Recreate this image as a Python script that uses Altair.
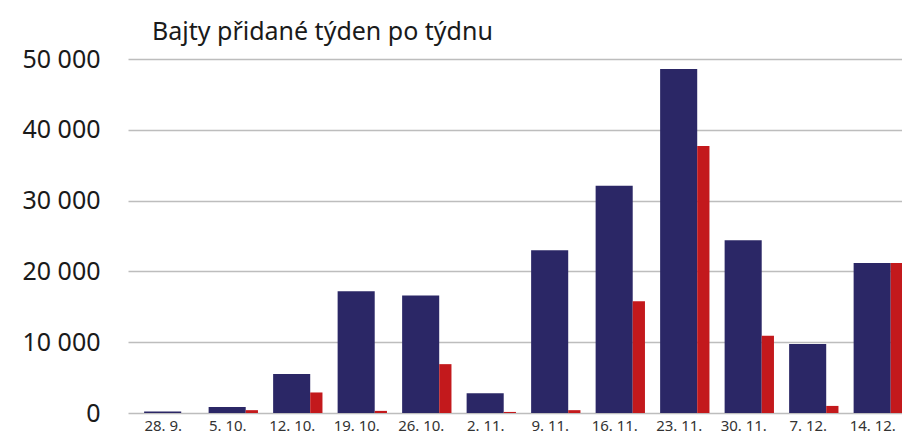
import altair as alt
import pandas as pd

weeks = ["28. 9.", "5. 10.", "12. 10.", "19. 10.", "26. 10.", "2. 11.", "9. 11.",
         "16. 11.", "23. 11.", "30. 11.", "7. 12.", "14. 12."]
series_a = [200, 850, 5500, 17200, 16600, 2800, 23000, 32100, 48600, 24400, 9750, 21200]
series_b = [0, 400, 2900, 300, 6900, 150, 400, 15800, 37700, 10900, 1000, 21200]

df = pd.DataFrame({"week": weeks, "a": series_a, "b": series_b})

FONT = "Noto Sans"
W, H = 774, 354
step = W / len(weeks)

x = alt.X("week:N", sort=weeks, title=None,
          scale=alt.Scale(paddingInner=0, paddingOuter=0),
          axis=alt.Axis(labelAngle=0, labelFontSize=15, labelColor="#333333",
                        labelFont=FONT, ticks=False, domain=False, labelPadding=5,
                        labelOffset=3))
yscale = alt.Scale(domain=[0, 50000])

bars_a = alt.Chart(df).mark_bar(
    color="#2b2766", width=step * 0.575, xOffset=step * (0.25 + 0.2875 - 0.5)
).encode(
    x=x,
    y=alt.Y("a:Q", scale=yscale, title=None,
            axis=alt.Axis(values=[0, 10000, 20000, 30000, 40000, 50000],
                          labelExpr="replace(format(datum.value, ',d'), ',', ' ')",
                          labelFontSize=25, labelFont=FONT, labelColor="#1a1a1a",
                          labelPadding=28, ticks=False, domain=False,
                          gridColor="#bdbdbd", gridWidth=1.6)),
)

bars_b = alt.Chart(df).mark_bar(
    color="#c3191c", width=step * 0.19, xOffset=step * (0.825 + 0.095 - 0.5)
).encode(
    x=x,
    y=alt.Y("b:Q", scale=yscale),
)

chart = alt.layer(bars_a, bars_b).properties(
    width=W, height=H,
    title=alt.TitleParams("Bajty přidané týden po týdnu", anchor="start", frame="group",
                          font=FONT, fontSize=25, fontWeight="normal",
                          color="#1a1a1a", dx=24, offset=2),
    autosize=alt.AutoSizeParams(type="none"),
    padding={"left": 120, "top": 51, "right": 0, "bottom": 22},
).configure_view(stroke=None)

chart.save("out.html", embed_options={"renderer": "svg", "actions": False})
